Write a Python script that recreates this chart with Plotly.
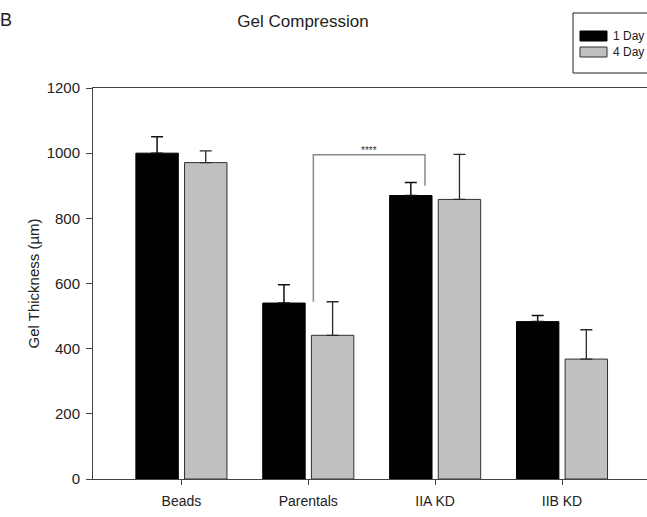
import plotly.graph_objects as go

# Gel thickness after compression, mean with upward SD bars
groups = ["Beads", "Parentals", "IIA KD", "IIB KD"]
day1 = [1000, 540, 870, 483]
day1_err = [50, 56, 40, 19]
day4 = [971, 441, 858, 368]
day4_err = [36, 103, 138, 90]
series_names = ["1 Day", "4 Day"]
y_ticks = [0, 200, 400, 600, 800, 1000, 1200]

FONT = "Liberation Sans, Arial, sans-serif"
W, H = 647, 517
L, R, T, B = 93, 0, 88, 38
PW, PH = W - L - R, H - T - B


def px(x):
    return (x - L) / PW


def py(y):
    return (H - B - y) / PH


fig = go.Figure()
fig.add_trace(go.Bar(
    x=groups, y=day1, name=series_names[0],
    marker=dict(color="black", line=dict(color="black", width=1)),
    error_y=dict(type="data", array=day1_err, arrayminus=[0] * len(groups),
                 symmetric=False, color="#111111", thickness=1.5, width=6),
    showlegend=False,
))
fig.add_trace(go.Bar(
    x=groups, y=day4, name=series_names[1],
    marker=dict(color="#c0c0c0", line=dict(color="#303030", width=1)),
    error_y=dict(type="data", array=day4_err, arrayminus=[0] * len(groups),
                 symmetric=False, color="#2a2a2a", thickness=1.3, width=6),
    showlegend=False,
))

# significance bracket between Parentals (4 Day) and IIA KD (1 Day)
left_x, right_x = 1.04, 1.92
top_y = 995
left_bottom = day4[1] + day4_err[1]
right_bottom = 900
fig.add_shape(type="path", xref="x", yref="y",
              path=f"M {left_x} {left_bottom} L {left_x} {top_y} L {right_x} {top_y} L {right_x} {right_bottom}",
              line=dict(color="#8a8a8a", width=1.5))
fig.add_annotation(x=(left_x + right_x) / 2, y=top_y, xref="x", yref="y",
                   text="****", showarrow=False, yanchor="bottom", yshift=-3,
                   font=dict(family=FONT, size=10, color="#333333"))

# legend box drawn as shapes
fig.add_shape(type="rect", xref="paper", yref="paper",
              x0=px(573), x1=px(650), y0=py(73), y1=py(13),
              line=dict(color="#222222", width=1), fillcolor="white")
fig.add_shape(type="rect", xref="paper", yref="paper",
              x0=px(580), x1=px(607), y0=py(41), y1=py(31),
              line=dict(color="black", width=1), fillcolor="black")
fig.add_shape(type="rect", xref="paper", yref="paper",
              x0=px(580), x1=px(607), y0=py(57), y1=py(47),
              line=dict(color="#303030", width=1), fillcolor="#c0c0c0")
for name, yc in zip(series_names, [36, 52]):
    fig.add_annotation(x=px(611), y=py(yc), xref="paper", yref="paper",
                       text=name, showarrow=False, xanchor="left", yanchor="middle",
                       font=dict(family=FONT, size=12, color="#222222"))

# axis title
fig.add_annotation(x=px(33), y=0.5, xref="paper", yref="paper",
                   text="Gel Thickness (\u00b5m)", textangle=-90, showarrow=False,
                   xanchor="center", yanchor="middle",
                   font=dict(family=FONT, size=15, color="#222222"))

# panel letter
fig.add_annotation(x=px(0), y=py(20), xref="paper", yref="paper",
                   text="B", showarrow=False, xanchor="left", yanchor="middle",
                   xshift=-2, font=dict(family=FONT, size=18, color="#222222"))

fig.update_layout(
    width=W, height=H,
    margin=dict(l=L, r=R, t=T, b=B, pad=0),
    paper_bgcolor="white", plot_bgcolor="white",
    barmode="group", bargap=0.233, bargroupgap=0.128,
    title=dict(text="Gel Compression", x=303 / W, xanchor="center",
               y=1 - 21 / H, yanchor="middle",
               font=dict(family=FONT, size=17, color="#222222")),
    font=dict(family=FONT, color="#222222"),
)
fig.update_xaxes(
    range=[-0.697, 3.67], showgrid=False, zeroline=False,
    showline=True, linecolor="#444444", linewidth=1, mirror=True,
    ticks="outside", ticklen=5, tickcolor="#444444",
    ticklabelstandoff=4,
    tickfont=dict(family=FONT, size=14, color="#222222"),
)
fig.update_yaxes(
    range=[0, 1200], tickvals=y_ticks, showgrid=False, zeroline=False,
    showline=True, linecolor="#444444", linewidth=1,
    ticks="outside", ticklen=6, tickcolor="#444444",
    ticklabelstandoff=3,
    tickfont=dict(family=FONT, size=15, color="#222222"),
)

fig.write_html("out.html")
